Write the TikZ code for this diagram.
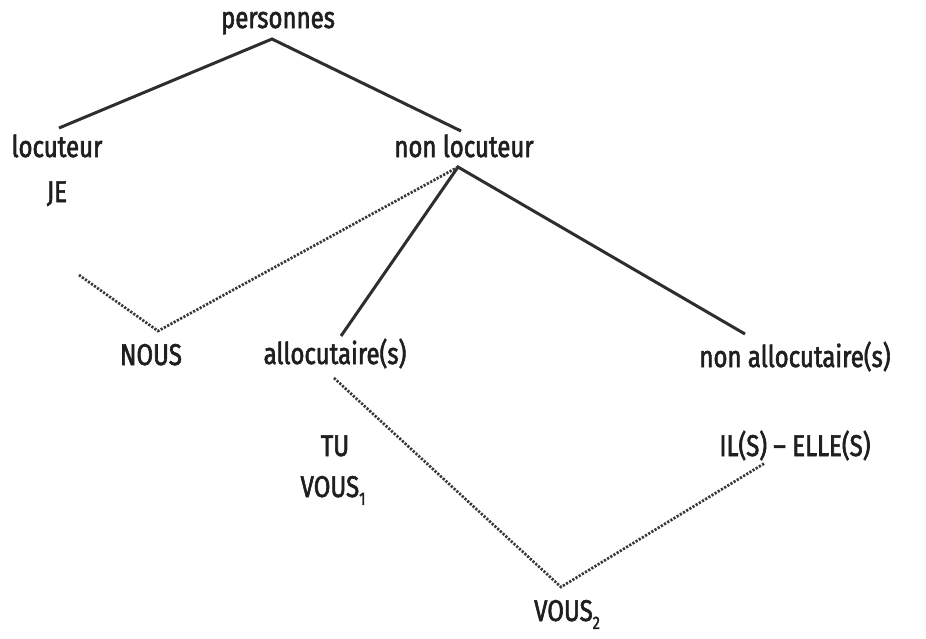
\documentclass[tikz,border=0pt]{standalone}
\usepackage{fontspec}
\setmainfont[FakeStretch=0.8,UprightFeatures={FakeBold=2}]{Fira Sans}
\newcommand{\subidx}[1]{\raisebox{-0.5ex}{\fontsize{18}{18}\selectfont #1}}
\begin{document}
\begin{tikzpicture}[x=1pt,y=-1pt,
  lbl/.style={font=\fontsize{30}{32}\selectfont, text=black!88, inner sep=0pt, anchor=base},
  branch/.style={draw=black!82, line width=3pt},
  link/.style={draw=black!78, line width=2.7pt, dash pattern=on 2.2pt off 1.5pt}]
\useasboundingbox (0,0) rectangle (926,638);

% labels (positions are baselines)
\node[lbl] (pers) at (278,28) {personnes};
\node[lbl] (loc) at (57,157) {locuteur};
\node[lbl] (je) at (57,202) {JE};
\node[lbl] (nonloc) at (464,157) {non locuteur};
\node[lbl] (nous) at (151,365) {NOUS};
\node[lbl] (alloc) at (335,364) {allocutaire(s)};
\node[lbl] (nonalloc) at (795,367) {non allocutaire(s)};
\node[lbl] (tu) at (335,456) {TU};
\node[lbl] (vous1) at (333,497) {VOUS\subidx{1}};
\node[lbl] (ils) at (795,456) {IL(S) -- ELLE(S)};
\node[lbl] (vous2) at (567,621) {VOUS\subidx{2}};

% junction points of the tree
\coordinate (pTop) at (272,39);
\coordinate (locTop) at (59,128);
\coordinate (nlTop) at (461,131);
\coordinate (nlBot) at (458,167);
\coordinate (nousV) at (158,331);
\coordinate (nousEnd) at (79,275);
\coordinate (allocTop) at (341,336);
\coordinate (nallocTop) at (745,334);
\coordinate (allocBot) at (334,378);
\coordinate (vousV) at (561,587);
\coordinate (ilsEnd) at (765,463);

% solid branches
\draw[branch] (locTop) -- (pTop) -- (nlTop);
\draw[branch] (allocTop) -- (nlBot) -- (nallocTop);

% dotted links
\draw[link] (nousEnd) -- (nousV) -- (nlBot);
\draw[link] (allocBot) -- (vousV) -- (ilsEnd);
\end{tikzpicture}
\end{document}
